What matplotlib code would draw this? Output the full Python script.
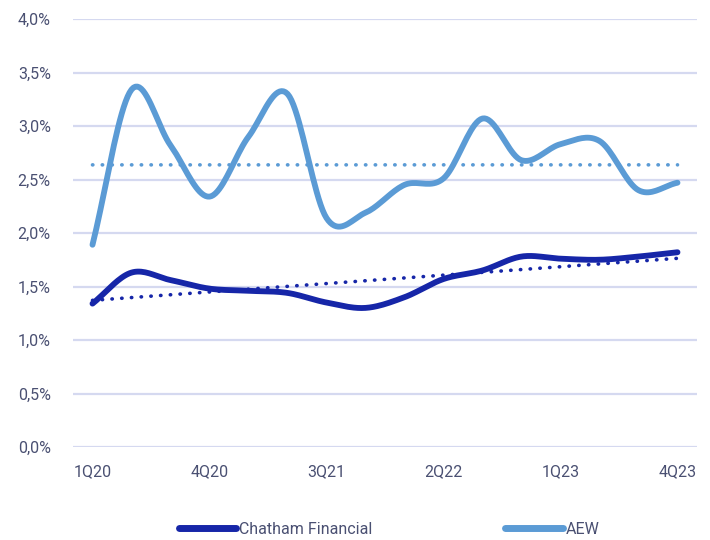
import numpy as np
import matplotlib.pyplot as plt
from matplotlib.lines import Line2D
from matplotlib.ticker import FuncFormatter

quarters = ["1Q20", "2Q20", "3Q20", "4Q20", "1Q21", "2Q21", "3Q21", "4Q21",
            "1Q22", "2Q22", "3Q22", "4Q22", "1Q23", "2Q23", "3Q23", "4Q23"]
chatham = [1.34, 1.63, 1.56, 1.48, 1.46, 1.44, 1.35, 1.30,
           1.40, 1.57, 1.65, 1.78, 1.76, 1.75, 1.78, 1.82]
aew = [1.89, 3.34, 2.82, 2.34, 2.90, 3.30, 2.14, 2.19,
       2.45, 2.51, 3.07, 2.68, 2.83, 2.86, 2.40, 2.47]

DARK = "#1626A8"
LIGHT = "#5B9BD5"
GRID = "#D5D9F0"
TEXT = "#4A5072"

plt.rcParams["font.family"] = ["Roboto", "DejaVu Sans"]


def smooth(y, n=20):
    # Catmull-Rom style curve through every point
    y = np.asarray(y, dtype=float)
    p = np.concatenate([[2 * y[0] - y[1]], y, [2 * y[-1] - y[-2]]])
    xs, ys = [], []
    for i in range(len(y) - 1):
        p0, p1, p2, p3 = p[i], p[i + 1], p[i + 2], p[i + 3]
        t = np.linspace(0, 1, n, endpoint=False)
        seg = 0.5 * ((2 * p1) + (-p0 + p2) * t + (2 * p0 - 5 * p1 + 4 * p2 - p3) * t ** 2
                     + (-p0 + 3 * p1 - 3 * p2 + p3) * t ** 3)
        xs.append(i + t)
        ys.append(seg)
    xs.append([len(y) - 1])
    ys.append([y[-1]])
    return np.concatenate(xs), np.concatenate(ys)


x = np.arange(len(quarters))

fig = plt.figure(figsize=(7.1, 5.4), dpi=100)
ax = fig.add_axes([73 / 710, 93 / 540, 624 / 710, 428 / 540])

for vals, col in [(chatham, DARK), (aew, LIGHT)]:
    sx, sy = smooth(vals)
    ax.plot(sx, sy, color=col, lw=4.2, solid_capstyle="round", zorder=3)
    k, b = np.polyfit(x, vals, 1)
    ax.plot(x, k * x + b, color=col, lw=2.6, ls=(0, (0.1, 2.6)),
            dash_capstyle="round", zorder=2)

ax.set_xlim(-0.5, len(quarters) - 0.5)
ax.set_ylim(0, 4.0)
ax.set_yticks(np.arange(0, 4.01, 0.5))
ax.yaxis.set_major_formatter(FuncFormatter(lambda v, _: f"{v:.1f}%".replace(".", ",")))
ax.set_xticks(x[::3])
ax.set_xticklabels(quarters[::3])
ax.grid(axis="y", color=GRID, lw=1.6)
ax.set_axisbelow(True)
for s in ax.spines.values():
    s.set_visible(False)
ax.tick_params(length=0, labelsize=11.5, labelcolor=TEXT)
ax.tick_params(axis="y", pad=16)
ax.tick_params(axis="x", pad=12)

handles = [Line2D([], [], color=DARK, lw=5, solid_capstyle="round"),
           Line2D([], [], color=LIGHT, lw=5, solid_capstyle="round")]
fig.legend(handles, ["Chatham Financial", "AEW"], loc="center", ncol=2,
           bbox_to_anchor=(0.548, 0.02), frameon=False, fontsize=11.5,
           labelcolor=TEXT, handlelength=3.6, handletextpad=0.2, columnspacing=8.3)

fig.savefig("out.png", dpi=100)
